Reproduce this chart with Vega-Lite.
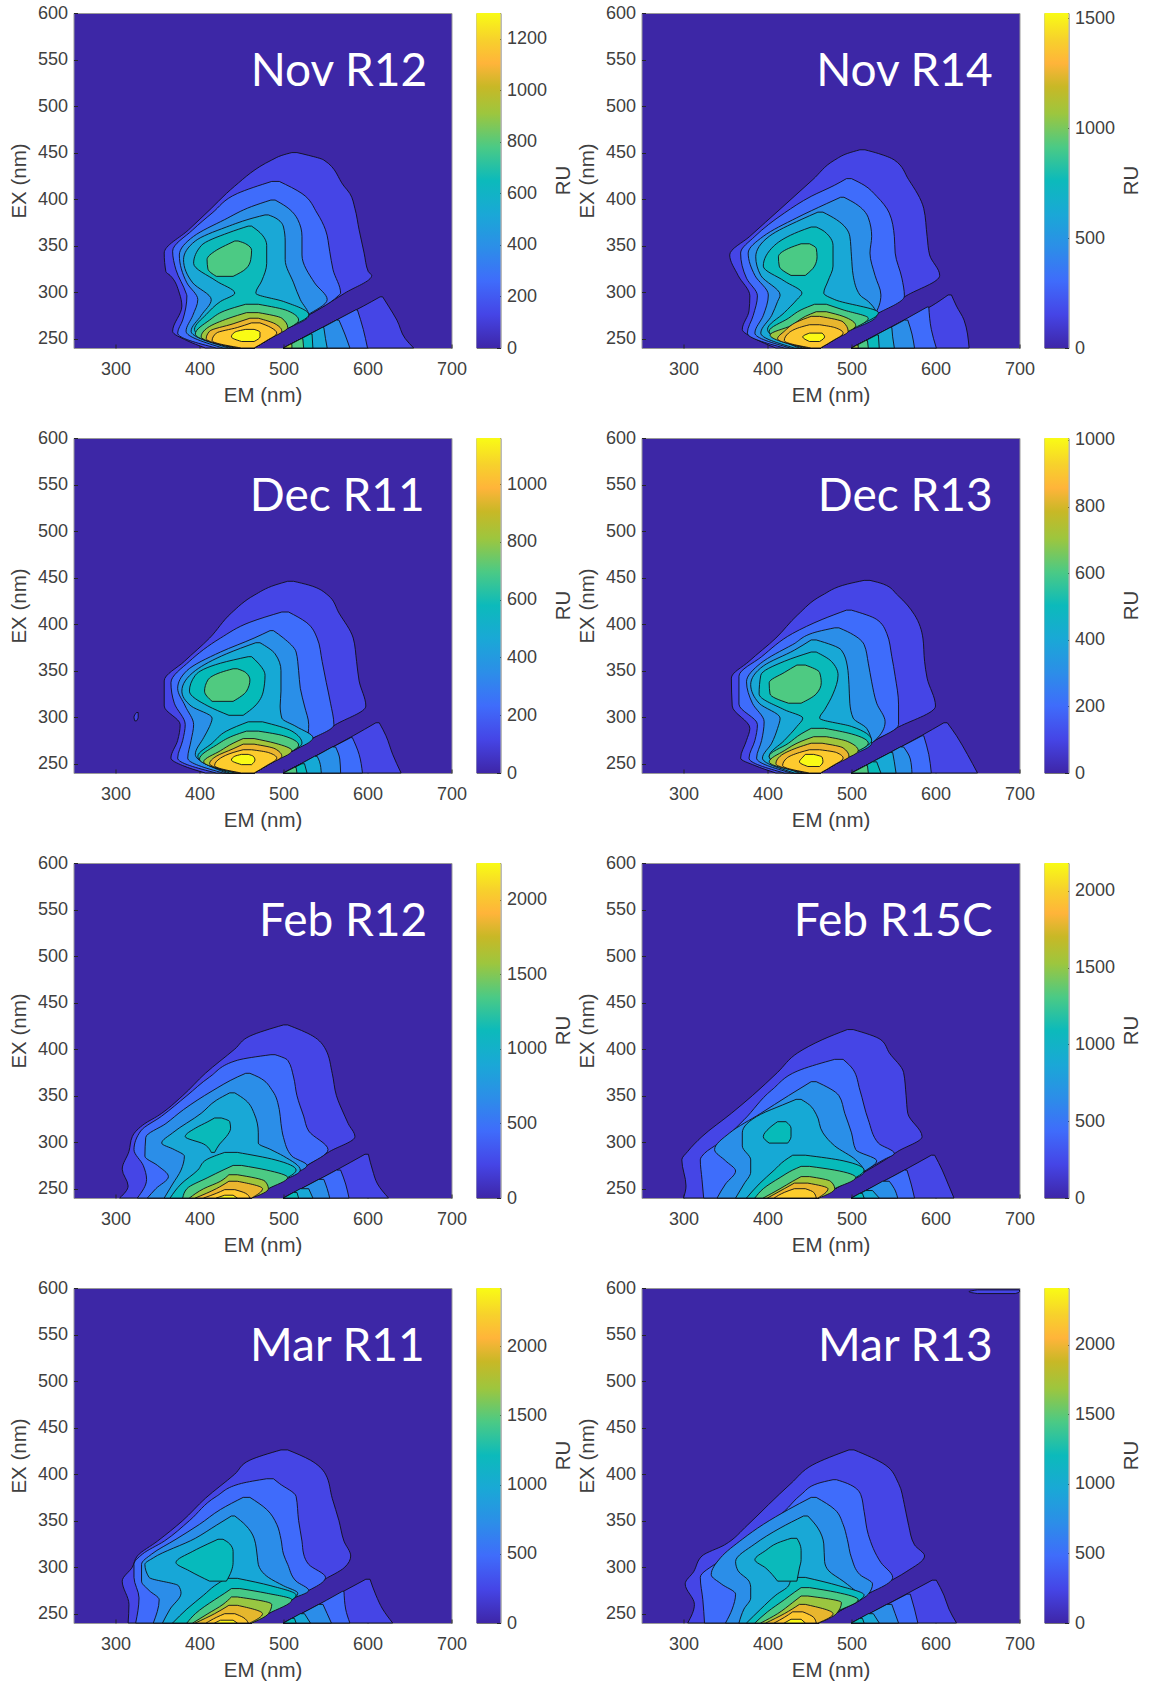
{"$schema":"https://vega.github.io/schema/vega-lite/v6.json","background":"white","padding":{"left":8.5,"top":3,"right":0,"bottom":0},"columns":5,"bounds":"flush","align":"each","spacing":{"row":90,"column":25},"resolve":{"scale":{"color":"independent"}},
"config":{"numberFormat":"d","range":{"ramp":["#3e26a8","#4545e6","#3f6cfb","#2c8ee8","#1aa8d6","#0cbabb","#4bca85","#9dc63e","#eab52f","#fdc82f","#f9fb15"]},
"rect":{"color":{"x1":0,"y1":1,"x2":0,"y2":0,"gradient":"linear","stops":[{"offset":0,"color":"#3e26a8"},{"offset":0.1,"color":"#4545e6"},{"offset":0.2,"color":"#3f6cfb"},{"offset":0.3,"color":"#2c8ee8"},{"offset":0.4,"color":"#1aa8d6"},{"offset":0.5,"color":"#0cbabb"},{"offset":0.6,"color":"#4bca85"},{"offset":0.7,"color":"#9dc63e"},{"offset":0.78,"color":"#c8b826"},{"offset":0.85,"color":"#ffb43a"},{"offset":0.92,"color":"#f7d12c"},{"offset":1,"color":"#f9fb15"}]}},
"text":{"color":"white","font":"Lato","fontSize":46,"align":"right","baseline":"alphabetic"},
"style":{"ct":{"stroke":"#101018","strokeWidth":0.9,"clip":true,"interpolate":"monotone","orient":"horizontal"}},
"axis":{"labelFont":"Liberation Sans","titleFont":"Liberation Sans","labelFontSize":18,"titleFontSize":20.5,"labelColor":"#404040","titleColor":"#404040","titleFontWeight":"normal","grid":false,"domain":false,"tickSize":-4,"tickColor":"#262626","labelPadding":16},
"axisX":{"titlePadding":7,"labelFlush":false},"axisY":{"labelPadding":10,"titlePadding":8}},
"datasets":{
"d1":[{"v":130,"y":240,"a":407,"b":465},{"v":130,"y":248,"a":385,"b":480},{"v":130,"y":258,"a":368,"b":498},{"v":130,"y":285,"a":379,"b":548},{"v":130,"y":299,"a":376,"b":573},{"v":130,"y":318,"a":365,"b":605},{"v":130,"y":322,"a":360,"b":601},{"v":130,"y":342,"a":358,"b":596},{"v":130,"y":367,"a":387,"b":590},{"v":130,"y":390,"a":414,"b":585},{"v":130,"y":406,"a":432,"b":579},{"v":130,"y":414,"a":442,"b":572},{"v":130,"y":442,"a":486,"b":548},{"v":130,"y":447,"a":498,"b":530},{"v":130,"y":450,"a":510,"b":516},
{"v":260,"y":240,"a":420,"b":465},{"v":260,"y":256,"a":374,"b":495},{"v":260,"y":270,"a":380,"b":520},{"v":260,"y":296,"a":385,"b":565},{"v":260,"y":299,"a":384,"b":568},{"v":260,"y":324,"a":372,"b":559},{"v":260,"y":344,"a":368,"b":555},{"v":260,"y":367,"a":392,"b":550},{"v":260,"y":385,"a":415,"b":540},{"v":260,"y":406,"a":445,"b":522},{"v":260,"y":419,"a":486,"b":495},
{"v":390,"y":240,"a":428,"b":465},{"v":390,"y":258,"a":384,"b":498},{"v":390,"y":275,"a":392,"b":528},{"v":390,"y":292,"a":398,"b":552},{"v":390,"y":310,"a":385,"b":537},{"v":390,"y":340,"a":376,"b":522},{"v":390,"y":360,"a":393,"b":522},{"v":390,"y":378,"a":430,"b":517},{"v":390,"y":392,"a":462,"b":503},{"v":390,"y":399,"a":485,"b":490},
{"v":520,"y":240,"a":435,"b":465},{"v":520,"y":258,"a":390,"b":498},{"v":520,"y":275,"a":402,"b":530},{"v":520,"y":292,"a":414,"b":520},{"v":520,"y":310,"a":392,"b":512},{"v":520,"y":335,"a":381,"b":502},{"v":520,"y":355,"a":395,"b":502},{"v":520,"y":370,"a":432,"b":500},{"v":520,"y":380,"a":465,"b":490},{"v":520,"y":383,"a":478,"b":482},
{"v":650,"y":240,"a":438,"b":465},{"v":650,"y":260,"a":394,"b":501},{"v":650,"y":276,"a":408,"b":530},{"v":650,"y":290,"a":425,"b":500},{"v":650,"y":299,"a":442,"b":467},{"v":650,"y":312,"a":420,"b":474},{"v":650,"y":331,"a":393,"b":480},{"v":650,"y":350,"a":402,"b":480},{"v":650,"y":364,"a":435,"b":472},{"v":650,"y":371,"a":458,"b":462},
{"v":780,"y":240,"a":442,"b":465},{"v":780,"y":255,"a":395,"b":492},{"v":780,"y":270,"a":412,"b":518},{"v":780,"y":280,"a":430,"b":505},{"v":780,"y":287,"a":455,"b":470},
{"v":782,"y":317,"a":420,"b":440},{"v":782,"y":325,"a":410,"b":455},{"v":782,"y":335,"a":409,"b":461},{"v":782,"y":345,"a":420,"b":462},{"v":782,"y":352,"a":435,"b":455},{"v":782,"y":355,"a":442,"b":446},
{"v":910,"y":240,"a":446,"b":465},{"v":910,"y":252,"a":402,"b":487},{"v":910,"y":262,"a":410,"b":505},{"v":910,"y":272,"a":435,"b":498},{"v":910,"y":278,"a":456,"b":470},
{"v":1040,"y":240,"a":448,"b":465},{"v":1040,"y":250,"a":408,"b":483},{"v":1040,"y":258,"a":412,"b":498},{"v":1040,"y":266,"a":440,"b":490},{"v":1040,"y":272,"a":460,"b":470},
{"v":1170,"y":240,"a":450,"b":465},{"v":1170,"y":248,"a":415,"b":480},{"v":1170,"y":256,"a":420,"b":492},{"v":1170,"y":262,"a":445,"b":485},{"v":1170,"y":267,"a":462,"b":472},
{"v":1300,"y":247,"a":450,"b":465},{"v":1300,"y":252,"a":438,"b":472},{"v":1300,"y":257,"a":442,"b":472},{"v":1300,"y":260,"a":455,"b":465},
{"v":131,"y":240,"a":500,"b":655},{"v":131,"y":250,"a":521,"b":645},{"v":131,"y":270,"a":563,"b":635},{"v":131,"y":285,"a":595,"b":625},{"v":131,"y":295,"a":615,"b":618},
{"v":261,"y":240,"a":500,"b":600},{"v":261,"y":260,"a":542,"b":595},{"v":261,"y":281,"a":586,"b":588},
{"v":391,"y":240,"a":500,"b":579},{"v":391,"y":255,"a":532,"b":573},{"v":391,"y":270,"a":563,"b":566},
{"v":521,"y":240,"a":500,"b":552},{"v":521,"y":250,"a":521,"b":550},{"v":521,"y":262,"a":546,"b":548},
{"v":651,"y":240,"a":500,"b":535},{"v":651,"y":255,"a":532,"b":534},
{"v":783,"y":240,"a":500,"b":524},{"v":783,"y":250,"a":521,"b":523},
{"v":911,"y":240,"a":500,"b":510},{"v":911,"y":244,"a":508,"b":510}],
"d2":[{"v":152,"y":240,"a":410,"b":463},{"v":152,"y":250,"a":385,"b":481},{"v":152,"y":260,"a":370,"b":499},{"v":152,"y":280,"a":378,"b":536},{"v":152,"y":296,"a":379,"b":565},{"v":152,"y":318,"a":365,"b":605},{"v":152,"y":340,"a":355,"b":593},{"v":152,"y":360,"a":379,"b":590},{"v":152,"y":390,"a":416,"b":586},{"v":152,"y":421,"a":454,"b":568},{"v":152,"y":442,"a":480,"b":551},{"v":152,"y":449,"a":495,"b":532},{"v":152,"y":453,"a":510,"b":516},
{"v":304,"y":240,"a":420,"b":463},{"v":304,"y":256,"a":376,"b":492},{"v":304,"y":275,"a":383,"b":527},{"v":304,"y":296,"a":388,"b":563},{"v":304,"y":315,"a":375,"b":560},{"v":304,"y":342,"a":368,"b":552},{"v":304,"y":360,"a":385,"b":551},{"v":304,"y":385,"a":420,"b":545},{"v":304,"y":403,"a":452,"b":530},{"v":304,"y":415,"a":480,"b":515},{"v":304,"y":422,"a":494,"b":500},
{"v":456,"y":240,"a":427,"b":463},{"v":456,"y":256,"a":385,"b":492},{"v":456,"y":275,"a":395,"b":527},{"v":456,"y":297,"a":401,"b":535},{"v":456,"y":318,"a":385,"b":528},{"v":456,"y":342,"a":377,"b":522},{"v":456,"y":360,"a":395,"b":524},{"v":456,"y":380,"a":435,"b":520},{"v":456,"y":395,"a":470,"b":505},{"v":456,"y":402,"a":487,"b":491},
{"v":608,"y":240,"a":432,"b":463},{"v":608,"y":256,"a":392,"b":492},{"v":608,"y":275,"a":405,"b":530},{"v":608,"y":290,"a":412,"b":520},{"v":608,"y":297,"a":415,"b":510},{"v":608,"y":318,"a":392,"b":502},{"v":608,"y":338,"a":386,"b":500},{"v":608,"y":360,"a":402,"b":498},{"v":608,"y":378,"a":440,"b":482},{"v":608,"y":386,"a":460,"b":466},
{"v":760,"y":240,"a":438,"b":463},{"v":760,"y":260,"a":400,"b":499},{"v":760,"y":278,"a":420,"b":532},{"v":760,"y":292,"a":435,"b":480},{"v":760,"y":299,"a":441,"b":467},{"v":760,"y":312,"a":420,"b":472},{"v":760,"y":328,"a":395,"b":478},{"v":760,"y":350,"a":408,"b":478},{"v":760,"y":365,"a":437,"b":468},{"v":760,"y":370,"a":452,"b":458},
{"v":912,"y":240,"a":442,"b":463},{"v":912,"y":258,"a":402,"b":496},{"v":912,"y":272,"a":425,"b":520},{"v":912,"y":281,"a":440,"b":490},{"v":912,"y":287,"a":456,"b":470},
{"v":914,"y":318,"a":428,"b":445},{"v":914,"y":328,"a":414,"b":456},{"v":914,"y":338,"a":413,"b":459},{"v":914,"y":347,"a":425,"b":458},{"v":914,"y":352,"a":440,"b":450},
{"v":1064,"y":240,"a":446,"b":463},{"v":1064,"y":254,"a":403,"b":488},{"v":1064,"y":264,"a":428,"b":505},{"v":1064,"y":274,"a":445,"b":490},{"v":1064,"y":279,"a":458,"b":470},
{"v":1216,"y":240,"a":450,"b":463},{"v":1216,"y":250,"a":412,"b":482},{"v":1216,"y":258,"a":420,"b":496},{"v":1216,"y":268,"a":435,"b":490},{"v":1216,"y":274,"a":452,"b":462},
{"v":1368,"y":240,"a":452,"b":463},{"v":1368,"y":248,"a":420,"b":478},{"v":1368,"y":256,"a":425,"b":490},{"v":1368,"y":262,"a":438,"b":480},{"v":1368,"y":265,"a":450,"b":462},
{"v":1520,"y":247,"a":450,"b":462},{"v":1520,"y":252,"a":442,"b":468},{"v":1520,"y":256,"a":450,"b":465},
{"v":153,"y":240,"a":500,"b":640},{"v":153,"y":270,"a":563,"b":634},{"v":153,"y":285,"a":595,"b":625},{"v":153,"y":297,"a":615,"b":619},
{"v":305,"y":240,"a":500,"b":601},{"v":305,"y":260,"a":542,"b":595},{"v":305,"y":284,"a":590,"b":592},
{"v":457,"y":240,"a":500,"b":575},{"v":457,"y":255,"a":532,"b":572},{"v":457,"y":270,"a":563,"b":567},
{"v":609,"y":240,"a":500,"b":551},{"v":609,"y":252,"a":525,"b":549},{"v":609,"y":262,"a":546,"b":548},
{"v":761,"y":240,"a":500,"b":533},{"v":761,"y":254,"a":530,"b":532},
{"v":915,"y":240,"a":500,"b":520},{"v":915,"y":248,"a":517,"b":519},
{"v":1065,"y":240,"a":500,"b":508},{"v":1065,"y":243,"a":506,"b":508}],
"d3":[{"v":117,"y":240,"a":407,"b":465},{"v":117,"y":248,"a":380,"b":480},{"v":117,"y":256,"a":366,"b":495},{"v":117,"y":275,"a":374,"b":530},{"v":117,"y":292,"a":377,"b":562},{"v":117,"y":312,"a":358,"b":598},{"v":117,"y":339,"a":358,"b":590},{"v":117,"y":360,"a":382,"b":587},{"v":117,"y":385,"a":412,"b":583},{"v":117,"y":412,"a":438,"b":566},{"v":117,"y":431,"a":465,"b":553},{"v":117,"y":442,"a":490,"b":530},{"v":117,"y":446,"a":505,"b":512},
{"v":234,"y":240,"a":420,"b":465},{"v":234,"y":256,"a":374,"b":495},{"v":234,"y":275,"a":380,"b":530},{"v":234,"y":292,"a":383,"b":560},{"v":234,"y":315,"a":370,"b":556},{"v":234,"y":337,"a":366,"b":551},{"v":234,"y":360,"a":388,"b":546},{"v":234,"y":385,"a":425,"b":540},{"v":234,"y":402,"a":460,"b":527},{"v":234,"y":413,"a":498,"b":506},
{"v":351,"y":240,"a":428,"b":465},{"v":351,"y":256,"a":386,"b":495},{"v":351,"y":275,"a":390,"b":528},{"v":351,"y":292,"a":393,"b":530},{"v":351,"y":312,"a":383,"b":525},{"v":351,"y":331,"a":374,"b":520},{"v":351,"y":350,"a":385,"b":518},{"v":351,"y":370,"a":425,"b":515},{"v":351,"y":385,"a":465,"b":500},{"v":351,"y":393,"a":484,"b":488},
{"v":468,"y":240,"a":432,"b":465},{"v":468,"y":260,"a":395,"b":502},{"v":468,"y":278,"a":405,"b":535},{"v":468,"y":290,"a":412,"b":515},{"v":468,"y":299,"a":415,"b":498},{"v":468,"y":312,"a":390,"b":496},{"v":468,"y":328,"a":379,"b":497},{"v":468,"y":350,"a":395,"b":497},{"v":468,"y":368,"a":432,"b":490},{"v":468,"y":380,"a":467,"b":472},
{"v":585,"y":240,"a":436,"b":465},{"v":585,"y":258,"a":398,"b":498},{"v":585,"y":272,"a":415,"b":522},{"v":585,"y":285,"a":432,"b":510},{"v":585,"y":295,"a":458,"b":475},
{"v":587,"y":302,"a":435,"b":452},{"v":587,"y":312,"a":410,"b":466},{"v":587,"y":328,"a":388,"b":476},{"v":587,"y":345,"a":395,"b":478},{"v":587,"y":358,"a":425,"b":470},{"v":587,"y":365,"a":458,"b":462},
{"v":702,"y":240,"a":442,"b":465},{"v":702,"y":255,"a":400,"b":492},{"v":702,"y":270,"a":420,"b":518},{"v":702,"y":280,"a":440,"b":500},{"v":702,"y":285,"a":456,"b":470},
{"v":704,"y":317,"a":415,"b":440},{"v":704,"y":328,"a":406,"b":456},{"v":704,"y":340,"a":410,"b":460},{"v":704,"y":348,"a":425,"b":455},{"v":704,"y":352,"a":440,"b":445},
{"v":819,"y":240,"a":446,"b":465},{"v":819,"y":252,"a":405,"b":488},{"v":819,"y":264,"a":425,"b":510},{"v":819,"y":272,"a":440,"b":490},{"v":819,"y":277,"a":452,"b":465},
{"v":936,"y":240,"a":448,"b":465},{"v":936,"y":250,"a":412,"b":484},{"v":936,"y":258,"a":420,"b":498},{"v":936,"y":266,"a":440,"b":490},{"v":936,"y":271,"a":452,"b":465},
{"v":1053,"y":240,"a":450,"b":465},{"v":1053,"y":248,"a":418,"b":480},{"v":1053,"y":256,"a":425,"b":492},{"v":1053,"y":262,"a":440,"b":482},{"v":1053,"y":265,"a":452,"b":462},
{"v":1160,"y":249,"a":450,"b":462},{"v":1160,"y":254,"a":438,"b":466},{"v":1160,"y":258,"a":442,"b":464},{"v":1160,"y":260,"a":450,"b":458},
{"v":118,"y":240,"a":500,"b":640},{"v":118,"y":260,"a":542,"b":630},{"v":118,"y":280,"a":583,"b":622},{"v":118,"y":294,"a":610,"b":614},
{"v":235,"y":240,"a":500,"b":594},{"v":235,"y":260,"a":542,"b":590},{"v":235,"y":278,"a":580,"b":582},
{"v":352,"y":240,"a":500,"b":568},{"v":352,"y":255,"a":532,"b":567},{"v":352,"y":268,"a":558,"b":562},
{"v":469,"y":240,"a":500,"b":545},{"v":469,"y":252,"a":525,"b":543},{"v":469,"y":258,"a":537,"b":540},
{"v":586,"y":240,"a":500,"b":528},{"v":586,"y":250,"a":522,"b":525},
{"v":705,"y":240,"a":500,"b":516},{"v":705,"y":246,"a":513,"b":515},
{"v":119,"y":296,"a":323,"b":325},{"v":119,"y":300,"a":322,"b":327},{"v":119,"y":305,"a":325,"b":327}],
"d4":[{"v":101,"y":240,"a":410,"b":463},{"v":101,"y":248,"a":385,"b":478},{"v":101,"y":256,"a":368,"b":493},{"v":101,"y":275,"a":375,"b":528},{"v":101,"y":288,"a":379,"b":553},{"v":101,"y":312,"a":358,"b":600},{"v":101,"y":342,"a":357,"b":590},{"v":101,"y":360,"a":378,"b":587},{"v":101,"y":385,"a":410,"b":585},{"v":101,"y":410,"a":436,"b":575},{"v":101,"y":431,"a":465,"b":555},{"v":101,"y":443,"a":495,"b":538},{"v":101,"y":447,"a":515,"b":522},
{"v":202,"y":240,"a":420,"b":463},{"v":202,"y":256,"a":378,"b":493},{"v":202,"y":275,"a":385,"b":528},{"v":202,"y":292,"a":388,"b":556},{"v":202,"y":314,"a":366,"b":556},{"v":202,"y":344,"a":366,"b":552},{"v":202,"y":365,"a":393,"b":548},{"v":202,"y":390,"a":430,"b":542},{"v":202,"y":405,"a":465,"b":530},{"v":202,"y":415,"a":494,"b":500},
{"v":303,"y":240,"a":428,"b":463},{"v":303,"y":256,"a":387,"b":493},{"v":303,"y":275,"a":393,"b":528},{"v":303,"y":295,"a":396,"b":540},{"v":303,"y":315,"a":382,"b":530},{"v":303,"y":338,"a":375,"b":524},{"v":303,"y":358,"a":392,"b":520},{"v":303,"y":378,"a":430,"b":515},{"v":303,"y":392,"a":460,"b":495},{"v":303,"y":396,"a":480,"b":485},
{"v":404,"y":240,"a":432,"b":463},{"v":404,"y":256,"a":394,"b":493},{"v":404,"y":272,"a":405,"b":524},{"v":404,"y":288,"a":412,"b":518},{"v":404,"y":299,"a":415,"b":502},{"v":404,"y":315,"a":390,"b":498},{"v":404,"y":335,"a":380,"b":497},{"v":404,"y":355,"a":395,"b":495},{"v":404,"y":372,"a":432,"b":488},{"v":404,"y":383,"a":452,"b":458},
{"v":505,"y":240,"a":438,"b":463},{"v":505,"y":258,"a":402,"b":495},{"v":505,"y":275,"a":420,"b":524},{"v":505,"y":290,"a":435,"b":500},{"v":505,"y":299,"a":442,"b":462},{"v":505,"y":308,"a":420,"b":468},{"v":505,"y":325,"a":390,"b":478},{"v":505,"y":345,"a":392,"b":484},{"v":505,"y":360,"a":420,"b":476},{"v":505,"y":370,"a":452,"b":458},
{"v":606,"y":240,"a":442,"b":463},{"v":606,"y":258,"a":402,"b":495},{"v":606,"y":272,"a":425,"b":520},{"v":606,"y":282,"a":440,"b":500},{"v":606,"y":288,"a":452,"b":468},
{"v":608,"y":315,"a":425,"b":440},{"v":608,"y":325,"a":403,"b":458},{"v":608,"y":337,"a":402,"b":464},{"v":608,"y":348,"a":420,"b":462},{"v":608,"y":356,"a":435,"b":445},
{"v":707,"y":240,"a":446,"b":463},{"v":707,"y":252,"a":402,"b":485},{"v":707,"y":264,"a":420,"b":508},{"v":707,"y":274,"a":440,"b":495},{"v":707,"y":279,"a":455,"b":470},
{"v":808,"y":240,"a":448,"b":463},{"v":808,"y":250,"a":410,"b":482},{"v":808,"y":258,"a":415,"b":497},{"v":808,"y":267,"a":435,"b":490},{"v":808,"y":272,"a":452,"b":465},
{"v":909,"y":240,"a":450,"b":463},{"v":909,"y":248,"a":418,"b":478},{"v":909,"y":256,"a":423,"b":490},{"v":909,"y":262,"a":438,"b":482},{"v":909,"y":265,"a":450,"b":462},
{"v":1006,"y":247,"a":448,"b":462},{"v":1006,"y":252,"a":438,"b":466},{"v":1006,"y":257,"a":442,"b":465},{"v":1006,"y":260,"a":445,"b":455},
{"v":102,"y":240,"a":500,"b":650},{"v":102,"y":260,"a":542,"b":638},{"v":102,"y":280,"a":583,"b":625},{"v":102,"y":294,"a":610,"b":614},
{"v":203,"y":240,"a":500,"b":595},{"v":203,"y":260,"a":542,"b":592},{"v":203,"y":280,"a":584,"b":586},
{"v":304,"y":240,"a":500,"b":572},{"v":304,"y":255,"a":532,"b":570},{"v":304,"y":268,"a":558,"b":562},
{"v":405,"y":240,"a":500,"b":553},{"v":405,"y":252,"a":525,"b":551},{"v":405,"y":262,"a":546,"b":549},
{"v":506,"y":240,"a":500,"b":535},{"v":506,"y":252,"a":525,"b":530},
{"v":609,"y":240,"a":500,"b":520},{"v":609,"y":248,"a":517,"b":519}],
"d5":[{"v":225,"y":240,"a":305,"b":462},{"v":225,"y":253,"a":315,"b":487},{"v":225,"y":271,"a":308,"b":520},{"v":225,"y":290,"a":316,"b":555},{"v":225,"y":306,"a":320,"b":585},{"v":225,"y":320,"a":335,"b":577},{"v":225,"y":328,"a":350,"b":573},{"v":225,"y":350,"a":380,"b":563},{"v":225,"y":374,"a":407,"b":558},{"v":225,"y":400,"a":442,"b":550},{"v":225,"y":414,"a":460,"b":535},{"v":225,"y":426,"a":500,"b":505},
{"v":450,"y":240,"a":326,"b":462},{"v":450,"y":260,"a":337,"b":500},{"v":450,"y":275,"a":333,"b":528},{"v":450,"y":292,"a":322,"b":553},{"v":450,"y":312,"a":330,"b":530},{"v":450,"y":328,"a":355,"b":524},{"v":450,"y":350,"a":385,"b":516},{"v":450,"y":370,"a":412,"b":512},{"v":450,"y":388,"a":445,"b":505},{"v":450,"y":394,"a":485,"b":490},
{"v":675,"y":240,"a":338,"b":462},{"v":675,"y":250,"a":348,"b":481},{"v":675,"y":263,"a":363,"b":505},{"v":675,"y":275,"a":350,"b":528},{"v":675,"y":285,"a":335,"b":510},{"v":675,"y":305,"a":336,"b":500},{"v":675,"y":320,"a":360,"b":497},{"v":675,"y":335,"a":381,"b":495},{"v":675,"y":355,"a":415,"b":487},{"v":675,"y":370,"a":445,"b":470},{"v":675,"y":374,"a":455,"b":460},
{"v":900,"y":240,"a":358,"b":462},{"v":900,"y":255,"a":368,"b":490},{"v":900,"y":270,"a":378,"b":520},{"v":900,"y":285,"a":382,"b":500},{"v":900,"y":292,"a":370,"b":485},{"v":900,"y":299,"a":355,"b":470},{"v":900,"y":310,"a":368,"b":470},{"v":900,"y":331,"a":402,"b":465},{"v":900,"y":345,"a":420,"b":455},{"v":900,"y":353,"a":436,"b":442},
{"v":1125,"y":240,"a":365,"b":462},{"v":1125,"y":255,"a":378,"b":490},{"v":1125,"y":270,"a":398,"b":515},{"v":1125,"y":281,"a":408,"b":490},{"v":1125,"y":289,"a":430,"b":445},
{"v":1127,"y":289,"a":414,"b":418},{"v":1127,"y":298,"a":405,"b":424},{"v":1127,"y":306,"a":383,"b":432},{"v":1127,"y":315,"a":395,"b":437},{"v":1127,"y":322,"a":410,"b":436},{"v":1127,"y":326,"a":418,"b":426},
{"v":1350,"y":240,"a":380,"b":462},{"v":1350,"y":250,"a":385,"b":482},{"v":1350,"y":262,"a":410,"b":505},{"v":1350,"y":270,"a":428,"b":480},{"v":1350,"y":275,"a":440,"b":450},
{"v":1575,"y":240,"a":388,"b":462},{"v":1575,"y":250,"a":405,"b":482},{"v":1575,"y":258,"a":425,"b":478},{"v":1575,"y":265,"a":435,"b":445},
{"v":1800,"y":240,"a":395,"b":462},{"v":1800,"y":250,"a":420,"b":475},{"v":1800,"y":258,"a":435,"b":445},
{"v":2025,"y":240,"a":405,"b":460},{"v":2025,"y":245,"a":420,"b":455},{"v":2025,"y":249,"a":430,"b":442},
{"v":2245,"y":240,"a":420,"b":445},{"v":2245,"y":243,"a":430,"b":440},
{"v":226,"y":240,"a":500,"b":625},{"v":226,"y":255,"a":532,"b":612},{"v":226,"y":270,"a":563,"b":606},{"v":226,"y":287,"a":597,"b":601},
{"v":451,"y":240,"a":500,"b":578},{"v":451,"y":255,"a":532,"b":574},{"v":451,"y":270,"a":563,"b":568},
{"v":676,"y":240,"a":500,"b":555},{"v":676,"y":250,"a":521,"b":552},{"v":676,"y":260,"a":542,"b":548},
{"v":901,"y":240,"a":500,"b":535},{"v":901,"y":250,"a":520,"b":530},
{"v":1126,"y":240,"a":500,"b":518},{"v":1126,"y":246,"a":512,"b":516}],
"d6":[{"v":220,"y":240,"a":300,"b":461},{"v":220,"y":253,"a":303,"b":486},{"v":220,"y":281,"a":298,"b":540},{"v":220,"y":290,"a":305,"b":555},{"v":220,"y":306,"a":322,"b":584},{"v":220,"y":331,"a":357,"b":567},{"v":220,"y":350,"a":382,"b":565},{"v":220,"y":375,"a":412,"b":562},{"v":220,"y":396,"a":436,"b":545},{"v":220,"y":410,"a":465,"b":535},{"v":220,"y":421,"a":495,"b":502},
{"v":440,"y":240,"a":324,"b":461},{"v":440,"y":260,"a":322,"b":498},{"v":440,"y":281,"a":320,"b":538},{"v":440,"y":288,"a":325,"b":551},{"v":440,"y":299,"a":342,"b":532},{"v":440,"y":324,"a":372,"b":520},{"v":440,"y":356,"a":405,"b":510},{"v":440,"y":378,"a":440,"b":502},{"v":440,"y":389,"a":480,"b":490},
{"v":660,"y":240,"a":340,"b":461},{"v":660,"y":255,"a":350,"b":490},{"v":660,"y":269,"a":362,"b":516},{"v":660,"y":280,"a":350,"b":530},{"v":660,"y":292,"a":337,"b":505},{"v":660,"y":310,"a":355,"b":500},{"v":660,"y":331,"a":392,"b":492},{"v":660,"y":350,"a":425,"b":485},{"v":660,"y":365,"a":452,"b":458},
{"v":880,"y":240,"a":362,"b":461},{"v":880,"y":255,"a":372,"b":490},{"v":880,"y":268,"a":380,"b":515},{"v":880,"y":281,"a":380,"b":505},{"v":880,"y":296,"a":370,"b":480},{"v":880,"y":310,"a":370,"b":466},{"v":880,"y":330,"a":392,"b":458},{"v":880,"y":340,"a":418,"b":450},{"v":880,"y":346,"a":434,"b":440},
{"v":1100,"y":240,"a":375,"b":461},{"v":1100,"y":255,"a":390,"b":490},{"v":1100,"y":270,"a":408,"b":515},{"v":1100,"y":280,"a":420,"b":490},{"v":1100,"y":286,"a":430,"b":445},
{"v":1102,"y":299,"a":402,"b":424},{"v":1102,"y":306,"a":395,"b":428},{"v":1102,"y":315,"a":402,"b":428},{"v":1102,"y":322,"a":412,"b":422},
{"v":1320,"y":240,"a":385,"b":461},{"v":1320,"y":250,"a":395,"b":480},{"v":1320,"y":262,"a":415,"b":505},{"v":1320,"y":270,"a":430,"b":480},{"v":1320,"y":274,"a":440,"b":450},
{"v":1540,"y":240,"a":395,"b":461},{"v":1540,"y":250,"a":415,"b":480},{"v":1540,"y":258,"a":430,"b":475},{"v":1540,"y":263,"a":440,"b":450},
{"v":1760,"y":240,"a":400,"b":460},{"v":1760,"y":250,"a":420,"b":472},{"v":1760,"y":256,"a":432,"b":448},
{"v":1980,"y":240,"a":408,"b":458},{"v":1980,"y":246,"a":420,"b":455},{"v":1980,"y":250,"a":432,"b":445},
{"v":221,"y":240,"a":500,"b":622},{"v":221,"y":255,"a":532,"b":615},{"v":221,"y":270,"a":563,"b":608},{"v":221,"y":286,"a":595,"b":599},
{"v":441,"y":240,"a":500,"b":575},{"v":441,"y":255,"a":532,"b":571},{"v":441,"y":270,"a":563,"b":566},
{"v":661,"y":240,"a":500,"b":555},{"v":661,"y":250,"a":521,"b":551},{"v":661,"y":258,"a":537,"b":545},
{"v":881,"y":240,"a":500,"b":533},{"v":881,"y":248,"a":517,"b":525},
{"v":1101,"y":240,"a":500,"b":515},{"v":1101,"y":245,"a":510,"b":513}],
"d7":[{"v":240,"y":240,"a":315,"b":462},{"v":240,"y":260,"a":316,"b":500},{"v":240,"y":285,"a":308,"b":545},{"v":240,"y":300,"a":320,"b":573},{"v":240,"y":312,"a":326,"b":580},{"v":240,"y":328,"a":350,"b":572},{"v":240,"y":350,"a":380,"b":566},{"v":240,"y":374,"a":407,"b":558},{"v":240,"y":400,"a":442,"b":550},{"v":240,"y":415,"a":460,"b":532},{"v":240,"y":426,"a":497,"b":505},
{"v":480,"y":240,"a":324,"b":462},{"v":480,"y":267,"a":328,"b":513},{"v":480,"y":289,"a":322,"b":550},{"v":480,"y":303,"a":322,"b":530},{"v":480,"y":314,"a":332,"b":524},{"v":480,"y":328,"a":358,"b":522},{"v":480,"y":350,"a":388,"b":518},{"v":480,"y":376,"a":420,"b":515},{"v":480,"y":390,"a":450,"b":495},{"v":480,"y":395,"a":480,"b":488},
{"v":720,"y":240,"a":345,"b":462},{"v":720,"y":265,"a":352,"b":507},{"v":720,"y":275,"a":340,"b":530},{"v":720,"y":285,"a":331,"b":515},{"v":720,"y":303,"a":331,"b":505},{"v":720,"y":314,"a":343,"b":500},{"v":720,"y":330,"a":372,"b":497},{"v":720,"y":346,"a":400,"b":492},{"v":720,"y":362,"a":425,"b":480},{"v":720,"y":375,"a":452,"b":460},
{"v":960,"y":240,"a":356,"b":462},{"v":960,"y":255,"a":365,"b":490},{"v":960,"y":272,"a":378,"b":517},{"v":960,"y":280,"a":375,"b":500},{"v":960,"y":289,"a":340,"b":482},{"v":960,"y":303,"a":335,"b":470},{"v":960,"y":310,"a":345,"b":469},{"v":960,"y":331,"a":395,"b":465},{"v":960,"y":345,"a":420,"b":455},{"v":960,"y":355,"a":438,"b":442},
{"v":1200,"y":240,"a":368,"b":462},{"v":1200,"y":255,"a":385,"b":490},{"v":1200,"y":270,"a":405,"b":515},{"v":1200,"y":280,"a":418,"b":485},{"v":1200,"y":288,"a":432,"b":445},
{"v":1202,"y":285,"a":412,"b":432},{"v":1202,"y":296,"a":388,"b":438},{"v":1202,"y":305,"a":372,"b":440},{"v":1202,"y":317,"a":392,"b":440},{"v":1202,"y":325,"a":410,"b":436},{"v":1202,"y":330,"a":422,"b":428},
{"v":1440,"y":240,"a":385,"b":462},{"v":1440,"y":250,"a":395,"b":482},{"v":1440,"y":265,"a":418,"b":510},{"v":1440,"y":272,"a":430,"b":480},{"v":1440,"y":277,"a":438,"b":448},
{"v":1680,"y":240,"a":392,"b":462},{"v":1680,"y":250,"a":410,"b":482},{"v":1680,"y":260,"a":428,"b":486},{"v":1680,"y":268,"a":438,"b":445},
{"v":1920,"y":240,"a":395,"b":460},{"v":1920,"y":250,"a":418,"b":475},{"v":1920,"y":259,"a":435,"b":445},
{"v":2160,"y":240,"a":408,"b":458},{"v":2160,"y":246,"a":420,"b":452},{"v":2160,"y":250,"a":430,"b":442},
{"v":2400,"y":240,"a":418,"b":445},{"v":2400,"y":243,"a":425,"b":440},
{"v":241,"y":240,"a":500,"b":630},{"v":241,"y":255,"a":532,"b":618},{"v":241,"y":270,"a":563,"b":610},{"v":241,"y":287,"a":598,"b":603},
{"v":481,"y":240,"a":500,"b":579},{"v":481,"y":255,"a":532,"b":574},{"v":481,"y":274,"a":570,"b":572},
{"v":721,"y":240,"a":500,"b":557},{"v":721,"y":250,"a":521,"b":552},{"v":721,"y":260,"a":542,"b":547},
{"v":961,"y":240,"a":500,"b":532},{"v":961,"y":250,"a":520,"b":525},
{"v":1201,"y":240,"a":500,"b":515},{"v":1201,"y":245,"a":510,"b":513}],
"d8":[{"v":240,"y":240,"a":305,"b":461},{"v":240,"y":260,"a":313,"b":498},{"v":240,"y":282,"a":302,"b":540},{"v":240,"y":295,"a":312,"b":565},{"v":240,"y":312,"a":322,"b":587},{"v":240,"y":324,"a":349,"b":575},{"v":240,"y":345,"a":376,"b":568},{"v":240,"y":367,"a":401,"b":563},{"v":240,"y":390,"a":428,"b":556},{"v":240,"y":410,"a":454,"b":540},{"v":240,"y":426,"a":497,"b":503},
{"v":480,"y":240,"a":325,"b":461},{"v":480,"y":265,"a":323,"b":505},{"v":480,"y":289,"a":320,"b":549},{"v":480,"y":305,"a":340,"b":535},{"v":480,"y":335,"a":385,"b":520},{"v":480,"y":360,"a":420,"b":515},{"v":480,"y":378,"a":440,"b":511},{"v":480,"y":390,"a":460,"b":495},{"v":480,"y":394,"a":478,"b":482},
{"v":720,"y":240,"a":350,"b":461},{"v":720,"y":255,"a":358,"b":490},{"v":720,"y":271,"a":362,"b":520},{"v":720,"y":282,"a":345,"b":525},{"v":720,"y":292,"a":333,"b":510},{"v":720,"y":310,"a":344,"b":500},{"v":720,"y":330,"a":370,"b":495},{"v":720,"y":346,"a":395,"b":490},{"v":720,"y":362,"a":425,"b":480},{"v":720,"y":375,"a":452,"b":458},
{"v":960,"y":240,"a":366,"b":461},{"v":960,"y":255,"a":372,"b":490},{"v":960,"y":267,"a":380,"b":512},{"v":960,"y":278,"a":380,"b":500},{"v":960,"y":285,"a":378,"b":490},{"v":960,"y":296,"a":365,"b":473},{"v":960,"y":306,"a":362,"b":468},{"v":960,"y":325,"a":385,"b":467},{"v":960,"y":342,"a":415,"b":460},{"v":960,"y":355,"a":443,"b":448},
{"v":1200,"y":240,"a":375,"b":461},{"v":1200,"y":255,"a":392,"b":490},{"v":1200,"y":270,"a":410,"b":515},{"v":1200,"y":280,"a":425,"b":485},{"v":1200,"y":289,"a":428,"b":445},
{"v":1202,"y":285,"a":412,"b":435},{"v":1202,"y":299,"a":398,"b":438},{"v":1202,"y":308,"a":385,"b":440},{"v":1202,"y":318,"a":398,"b":440},{"v":1202,"y":326,"a":412,"b":438},{"v":1202,"y":331,"a":428,"b":435},
{"v":1440,"y":240,"a":385,"b":461},{"v":1440,"y":252,"a":400,"b":482},{"v":1440,"y":265,"a":420,"b":508},{"v":1440,"y":273,"a":432,"b":482},{"v":1440,"y":278,"a":440,"b":450},
{"v":1680,"y":240,"a":392,"b":461},{"v":1680,"y":250,"a":412,"b":482},{"v":1680,"y":262,"a":430,"b":488},{"v":1680,"y":269,"a":440,"b":448},
{"v":1920,"y":240,"a":398,"b":460},{"v":1920,"y":250,"a":420,"b":478},{"v":1920,"y":260,"a":438,"b":445},
{"v":2160,"y":240,"a":408,"b":458},{"v":2160,"y":246,"a":420,"b":455},{"v":2160,"y":252,"a":430,"b":442},
{"v":2400,"y":240,"a":420,"b":445},{"v":2400,"y":244,"a":428,"b":440},
{"v":241,"y":240,"a":500,"b":625},{"v":241,"y":255,"a":532,"b":616},{"v":241,"y":270,"a":563,"b":610},{"v":241,"y":286,"a":596,"b":601},
{"v":481,"y":240,"a":500,"b":579},{"v":481,"y":255,"a":532,"b":575},{"v":481,"y":271,"a":566,"b":570},
{"v":721,"y":240,"a":500,"b":556},{"v":721,"y":250,"a":521,"b":552},{"v":721,"y":260,"a":542,"b":548},
{"v":961,"y":240,"a":500,"b":533},{"v":961,"y":250,"a":520,"b":526},
{"v":1201,"y":240,"a":500,"b":515},{"v":1201,"y":245,"a":510,"b":513},
{"v":242,"y":594,"a":650,"b":695},{"v":242,"y":596,"a":640,"b":700},{"v":242,"y":598,"a":650,"b":700}]
},
"concat":[
{"width":378,"height":335,"view":{"fill":"#3d27a6","stroke":"#999"},"layer":[{"data":{"name":"d1"},"mark":{"type":"area","style":"ct"},"encoding":{"x":{"field":"a","type":"quantitative","title":"EM (nm)","scale":{"domain":[250,700],"nice":false},"axis":{"values":[300,400,500,600,700]}},"x2":{"field":"b"},"y":{"field":"y","type":"quantitative","title":"EX (nm)","scale":{"domain":[240,600],"nice":false},"axis":{"values":[250,300,350,400,450,500,550,600]}},"color":{"field":"v","type":"quantitative","scale":{"domain":[0,1300]},"legend":null},"detail":{"field":"v"}}},{"data":{"values":[{"em":671,"ex":522,"t":"Nov R12"}]},"mark":{"type":"text"},"encoding":{"x":{"field":"em","type":"quantitative"},"y":{"field":"ex","type":"quantitative"},"text":{"field":"t"}}}]},
{"width":24,"height":335,"view":{"stroke":"#777"},"data":{"values":[{"lo":0,"hi":1300}]},"mark":{"type":"rect"},"encoding":{"y":{"field":"lo","type":"quantitative","title":"RU","scale":{"domain":[0,1300],"nice":false},"axis":{"orient":"right","titleAngle":270,"values":[0,200,400,600,800,1000,1200],"titleX":73,"titleY":167}},"y2":{"field":"hi"}}},
{"width":91,"height":335,"view":{"stroke":null},"data":{"values":[{"t":""}]},"mark":"text","encoding":{"text":{"field":"t"}}},
{"width":378,"height":335,"view":{"fill":"#3d27a6","stroke":"#999"},"layer":[{"data":{"name":"d2"},"mark":{"type":"area","style":"ct"},"encoding":{"x":{"field":"a","type":"quantitative","title":"EM (nm)","scale":{"domain":[250,700],"nice":false},"axis":{"values":[300,400,500,600,700]}},"x2":{"field":"b"},"y":{"field":"y","type":"quantitative","title":"EX (nm)","scale":{"domain":[240,600],"nice":false},"axis":{"values":[250,300,350,400,450,500,550,600]}},"color":{"field":"v","type":"quantitative","scale":{"domain":[0,1525]},"legend":null},"detail":{"field":"v"}}},{"data":{"values":[{"em":668,"ex":522,"t":"Nov R14"}]},"mark":{"type":"text"},"encoding":{"x":{"field":"em","type":"quantitative"},"y":{"field":"ex","type":"quantitative"},"text":{"field":"t"}}}]},
{"width":24,"height":335,"view":{"stroke":"#777"},"data":{"values":[{"lo":0,"hi":1525}]},"mark":{"type":"rect"},"encoding":{"y":{"field":"lo","type":"quantitative","title":"RU","scale":{"domain":[0,1525],"nice":false},"axis":{"orient":"right","titleAngle":270,"values":[0,500,1000,1500],"titleX":73,"titleY":167}},"y2":{"field":"hi"}}},
{"width":378,"height":335,"view":{"fill":"#3d27a6","stroke":"#999"},"layer":[{"data":{"name":"d3"},"mark":{"type":"area","style":"ct"},"encoding":{"x":{"field":"a","type":"quantitative","title":"EM (nm)","scale":{"domain":[250,700],"nice":false},"axis":{"values":[300,400,500,600,700]}},"x2":{"field":"b"},"y":{"field":"y","type":"quantitative","title":"EX (nm)","scale":{"domain":[240,600],"nice":false},"axis":{"values":[250,300,350,400,450,500,550,600]}},"color":{"field":"v","type":"quantitative","scale":{"domain":[0,1160]},"legend":null},"detail":{"field":"v"}}},{"data":{"values":[{"em":668,"ex":522,"t":"Dec R11"}]},"mark":{"type":"text"},"encoding":{"x":{"field":"em","type":"quantitative"},"y":{"field":"ex","type":"quantitative"},"text":{"field":"t"}}}]},
{"width":24,"height":335,"view":{"stroke":"#777"},"data":{"values":[{"lo":0,"hi":1160}]},"mark":{"type":"rect"},"encoding":{"y":{"field":"lo","type":"quantitative","title":"RU","scale":{"domain":[0,1160],"nice":false},"axis":{"orient":"right","titleAngle":270,"values":[0,200,400,600,800,1000],"titleX":73,"titleY":167}},"y2":{"field":"hi"}}},
{"width":91,"height":335,"view":{"stroke":null},"data":{"values":[{"t":""}]},"mark":"text","encoding":{"text":{"field":"t"}}},
{"width":378,"height":335,"view":{"fill":"#3d27a6","stroke":"#999"},"layer":[{"data":{"name":"d4"},"mark":{"type":"area","style":"ct"},"encoding":{"x":{"field":"a","type":"quantitative","title":"EM (nm)","scale":{"domain":[250,700],"nice":false},"axis":{"values":[300,400,500,600,700]}},"x2":{"field":"b"},"y":{"field":"y","type":"quantitative","title":"EX (nm)","scale":{"domain":[240,600],"nice":false},"axis":{"values":[250,300,350,400,450,500,550,600]}},"color":{"field":"v","type":"quantitative","scale":{"domain":[0,1006]},"legend":null},"detail":{"field":"v"}}},{"data":{"values":[{"em":668,"ex":522,"t":"Dec R13"}]},"mark":{"type":"text"},"encoding":{"x":{"field":"em","type":"quantitative"},"y":{"field":"ex","type":"quantitative"},"text":{"field":"t"}}}]},
{"width":24,"height":335,"view":{"stroke":"#777"},"data":{"values":[{"lo":0,"hi":1006}]},"mark":{"type":"rect"},"encoding":{"y":{"field":"lo","type":"quantitative","title":"RU","scale":{"domain":[0,1006],"nice":false},"axis":{"orient":"right","titleAngle":270,"values":[0,200,400,600,800,1000],"titleX":73,"titleY":167}},"y2":{"field":"hi"}}},
{"width":378,"height":335,"view":{"fill":"#3d27a6","stroke":"#999"},"layer":[{"data":{"name":"d5"},"mark":{"type":"area","style":"ct"},"encoding":{"x":{"field":"a","type":"quantitative","title":"EM (nm)","scale":{"domain":[250,700],"nice":false},"axis":{"values":[300,400,500,600,700]}},"x2":{"field":"b"},"y":{"field":"y","type":"quantitative","title":"EX (nm)","scale":{"domain":[240,600],"nice":false},"axis":{"values":[250,300,350,400,450,500,550,600]}},"color":{"field":"v","type":"quantitative","scale":{"domain":[0,2245]},"legend":null},"detail":{"field":"v"}}},{"data":{"values":[{"em":671,"ex":522,"t":"Feb R12"}]},"mark":{"type":"text"},"encoding":{"x":{"field":"em","type":"quantitative"},"y":{"field":"ex","type":"quantitative"},"text":{"field":"t"}}}]},
{"width":24,"height":335,"view":{"stroke":"#777"},"data":{"values":[{"lo":0,"hi":2245}]},"mark":{"type":"rect"},"encoding":{"y":{"field":"lo","type":"quantitative","title":"RU","scale":{"domain":[0,2245],"nice":false},"axis":{"orient":"right","titleAngle":270,"values":[0,500,1000,1500,2000],"titleX":73,"titleY":167}},"y2":{"field":"hi"}}},
{"width":91,"height":335,"view":{"stroke":null},"data":{"values":[{"t":""}]},"mark":"text","encoding":{"text":{"field":"t"}}},
{"width":378,"height":335,"view":{"fill":"#3d27a6","stroke":"#999"},"layer":[{"data":{"name":"d6"},"mark":{"type":"area","style":"ct"},"encoding":{"x":{"field":"a","type":"quantitative","title":"EM (nm)","scale":{"domain":[250,700],"nice":false},"axis":{"values":[300,400,500,600,700]}},"x2":{"field":"b"},"y":{"field":"y","type":"quantitative","title":"EX (nm)","scale":{"domain":[240,600],"nice":false},"axis":{"values":[250,300,350,400,450,500,550,600]}},"color":{"field":"v","type":"quantitative","scale":{"domain":[0,2182]},"legend":null},"detail":{"field":"v"}}},{"data":{"values":[{"em":668,"ex":522,"t":"Feb R15C"}]},"mark":{"type":"text"},"encoding":{"x":{"field":"em","type":"quantitative"},"y":{"field":"ex","type":"quantitative"},"text":{"field":"t"}}}]},
{"width":24,"height":335,"view":{"stroke":"#777"},"data":{"values":[{"lo":0,"hi":2182}]},"mark":{"type":"rect"},"encoding":{"y":{"field":"lo","type":"quantitative","title":"RU","scale":{"domain":[0,2182],"nice":false},"axis":{"orient":"right","titleAngle":270,"values":[0,500,1000,1500,2000],"titleX":73,"titleY":167}},"y2":{"field":"hi"}}},
{"width":378,"height":335,"view":{"fill":"#3d27a6","stroke":"#999"},"layer":[{"data":{"name":"d7"},"mark":{"type":"area","style":"ct"},"encoding":{"x":{"field":"a","type":"quantitative","title":"EM (nm)","scale":{"domain":[250,700],"nice":false},"axis":{"values":[300,400,500,600,700]}},"x2":{"field":"b"},"y":{"field":"y","type":"quantitative","title":"EX (nm)","scale":{"domain":[240,600],"nice":false},"axis":{"values":[250,300,350,400,450,500,550,600]}},"color":{"field":"v","type":"quantitative","scale":{"domain":[0,2420]},"legend":null},"detail":{"field":"v"}}},{"data":{"values":[{"em":668,"ex":522,"t":"Mar R11"}]},"mark":{"type":"text"},"encoding":{"x":{"field":"em","type":"quantitative"},"y":{"field":"ex","type":"quantitative"},"text":{"field":"t"}}}]},
{"width":24,"height":335,"view":{"stroke":"#777"},"data":{"values":[{"lo":0,"hi":2420}]},"mark":{"type":"rect"},"encoding":{"y":{"field":"lo","type":"quantitative","title":"RU","scale":{"domain":[0,2420],"nice":false},"axis":{"orient":"right","titleAngle":270,"values":[0,500,1000,1500,2000],"titleX":73,"titleY":167}},"y2":{"field":"hi"}}},
{"width":91,"height":335,"view":{"stroke":null},"data":{"values":[{"t":""}]},"mark":"text","encoding":{"text":{"field":"t"}}},
{"width":378,"height":335,"view":{"fill":"#3d27a6","stroke":"#999"},"layer":[{"data":{"name":"d8"},"mark":{"type":"area","style":"ct"},"encoding":{"x":{"field":"a","type":"quantitative","title":"EM (nm)","scale":{"domain":[250,700],"nice":false},"axis":{"values":[300,400,500,600,700]}},"x2":{"field":"b"},"y":{"field":"y","type":"quantitative","title":"EX (nm)","scale":{"domain":[240,600],"nice":false},"axis":{"values":[250,300,350,400,450,500,550,600]}},"color":{"field":"v","type":"quantitative","scale":{"domain":[0,2410]},"legend":null},"detail":{"field":"v"}}},{"data":{"values":[{"em":668,"ex":522,"t":"Mar R13"}]},"mark":{"type":"text"},"encoding":{"x":{"field":"em","type":"quantitative"},"y":{"field":"ex","type":"quantitative"},"text":{"field":"t"}}}]},
{"width":24,"height":335,"view":{"stroke":"#777"},"data":{"values":[{"lo":0,"hi":2410}]},"mark":{"type":"rect"},"encoding":{"y":{"field":"lo","type":"quantitative","title":"RU","scale":{"domain":[0,2410],"nice":false},"axis":{"orient":"right","titleAngle":270,"values":[0,500,1000,1500,2000],"titleX":73,"titleY":167}},"y2":{"field":"hi"}}}
]}
